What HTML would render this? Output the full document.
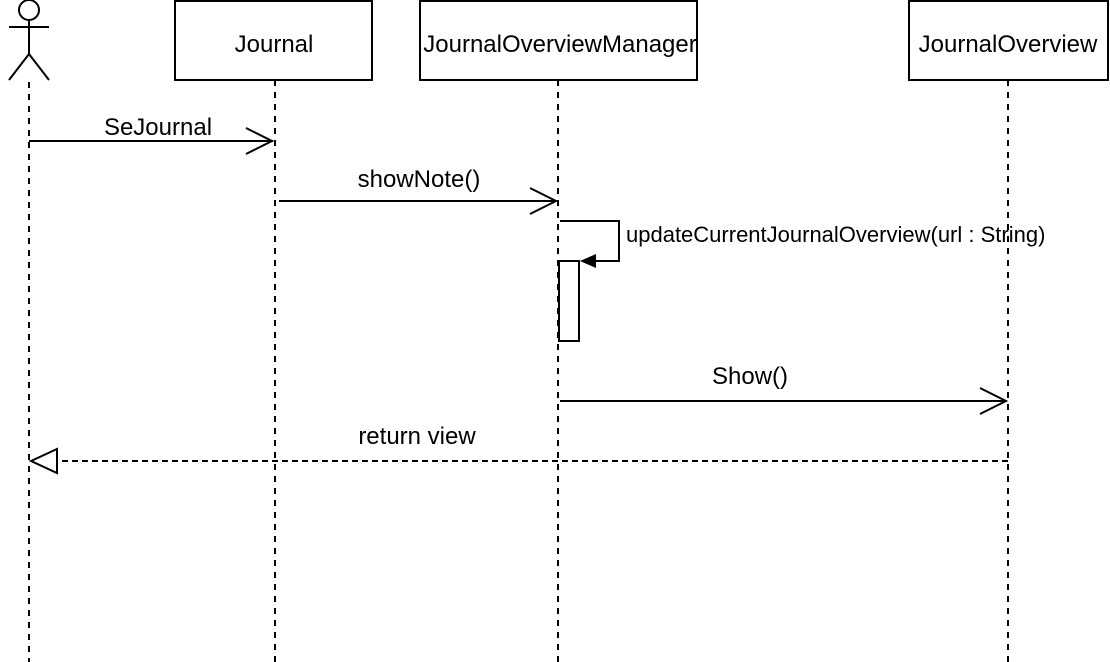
<!DOCTYPE html>
<html><head><meta charset="utf-8"><style>body{margin:0;background:#fff}svg{display:block}</style></head><body>
<svg width="1110" height="662" xmlns="http://www.w3.org/2000/svg" font-family="Liberation Sans, Arial, sans-serif" font-size="24">
<g stroke="#000" stroke-width="2" fill="none">
<circle cx="29" cy="10" r="10" fill="#fff"/>
<line x1="29" y1="20" x2="29" y2="54"/>
<line x1="9" y1="27" x2="49" y2="27"/>
<line x1="29" y1="54" x2="9" y2="80"/>
<line x1="29" y1="54" x2="49" y2="80"/>
<rect x="175" y="1" width="197" height="79" fill="#fff"/>
<rect x="420" y="1" width="277" height="79" fill="#fff"/>
<rect x="909" y="1" width="199" height="79" fill="#fff"/>
<g stroke-dasharray="6 6">
<line x1="29" y1="82" x2="29" y2="662"/>
<line x1="275" y1="80" x2="275" y2="662"/>
<line x1="558" y1="80" x2="558" y2="662"/>
<line x1="1008" y1="80" x2="1008" y2="662"/>
</g>
<line x1="29" y1="141" x2="273" y2="141"/>
<polyline points="246,128 272,141 246,154"/>
<line x1="279" y1="201" x2="556" y2="201"/>
<polyline points="530,188 556,201 530,214"/>
<polyline points="560,221 619,221 619,261 594,261"/>
<rect x="559" y="261" width="20" height="80" fill="#fff"/>
<line x1="560" y1="401" x2="1006" y2="401"/>
<polyline points="980,388 1006,401 980,414"/>
<line x1="1008" y1="461" x2="58" y2="461" stroke-dasharray="6 4"/>
<polygon points="57,449 31,461 57,473" fill="#fff"/>
</g>
<polygon points="580,261 596,254 596,268" fill="#000"/>
<g fill="#000" text-anchor="middle">
<text x="274" y="52">Journal</text>
<text x="560" y="52">JournalOverviewManager</text>
<text x="1008" y="52">JournalOverview</text>
<text x="158" y="135">SeJournal</text>
<text x="419" y="187">showNote()</text>
<text x="750" y="384">Show()</text>
<text x="417" y="444">return view</text>
</g>
<text x="626" y="242" font-size="22">updateCurrentJournalOverview(url : String)</text>
</svg>
</body></html>
